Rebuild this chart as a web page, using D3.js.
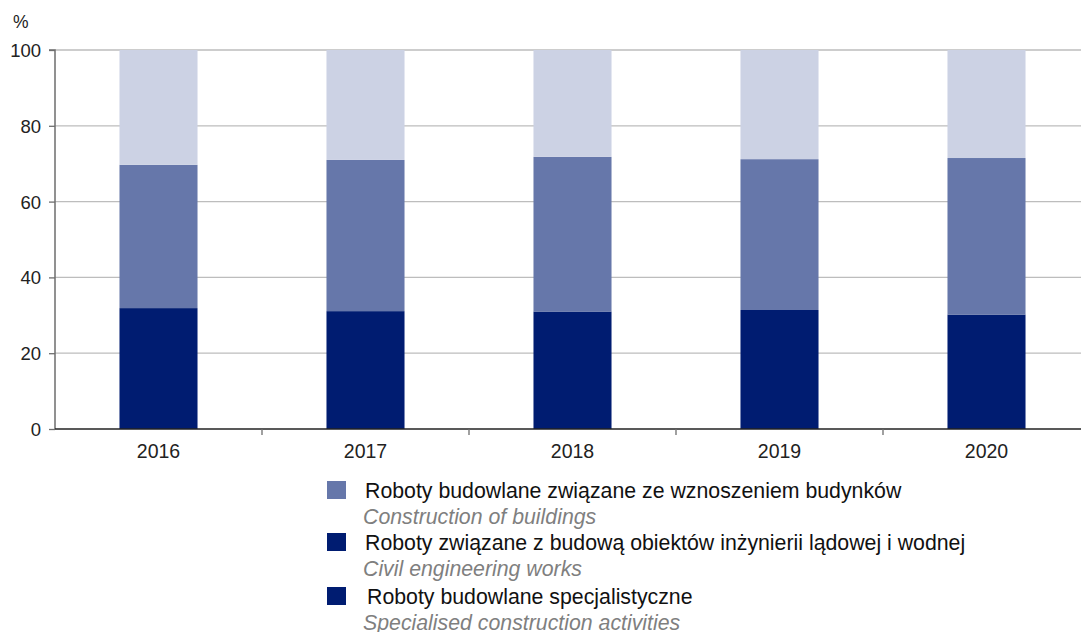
<!DOCTYPE html>
<html>
<head>
<meta charset="utf-8">
<script src="https://cdn.jsdelivr.net/npm/d3@7"></script>
<style>
  html, body { margin: 0; padding: 0; background: #fff; }
  svg { display: block; font-family: "Liberation Sans", Arial, sans-serif; }
</style>
</head>
<body>
<svg id="chart" width="1081" height="632"></svg>
<script>
// ---- data ----
const years = ["2016", "2017", "2018", "2019", "2020"];
const bottomSeries = [31.9, 31.1, 31.0, 31.4, 30.2];   // dark segment
const middleSeries = [37.8, 39.9, 40.8, 39.8, 41.3];   // medium segment
const topSeries    = [30.3, 29.0, 28.2, 28.8, 28.5];   // light segment
const yTicks = [0, 20, 40, 60, 80, 100];
const legendPl = [
  "Roboty budowlane związane ze wznoszeniem budynków",
  "Roboty związane z budową obiektów inżynierii lądowej i wodnej",
  "Roboty budowlane specjalistyczne"
];
const legendEn = [
  "Construction of buildings",
  "Civil engineering works",
  "Specialised construction activities"
];

const colors = { bottom: "#001C71", middle: "#6677AA", top: "#CCD2E4" };
const legendColors = ["#6677AA", "#001C71", "#001C71"];

const svg = d3.select("#chart");
const x0 = 55, x1 = 1090, yTop = 50, yBot = 429;

const x = d3.scaleBand().domain(years).range([x0, x1]).paddingInner(0.623).paddingOuter(0.3115);
const y = d3.scaleLinear().domain([0, 100]).range([yBot, yTop]);

// gridlines
svg.append("g").selectAll("line").data(yTicks.filter(d => d > 0)).join("line")
  .attr("x1", x0).attr("x2", 1081)
  .attr("y1", d => y(d)).attr("y2", d => y(d))
  .attr("stroke", "#BDBDBD").attr("stroke-width", 1.3);

// stacked data
const rows = years.map((yr, i) => ({ year: yr, bottom: bottomSeries[i], middle: middleSeries[i], top: topSeries[i] }));
const stack = d3.stack().keys(["bottom", "middle", "top"]);
const layers = stack(rows);

svg.append("g").selectAll("g").data(layers).join("g")
  .attr("fill", d => colors[d.key])
  .selectAll("rect").data(d => d).join("rect")
  .attr("x", d => x(d.data.year))
  .attr("width", x.bandwidth())
  .attr("y", d => y(Math.min(d[1], 100)))
  .attr("height", d => y(d[0]) - y(Math.min(d[1], 100)));

// y axis
const yAxis = d3.axisLeft(y).tickValues(yTicks).tickSize(6).tickPadding(8).tickFormat(d3.format("d"));
const gy = svg.append("g").attr("transform", `translate(${x0},0)`).call(yAxis);
gy.select(".domain").attr("stroke", "#6E6E6E").attr("stroke-width", 1.5).attr("d", `M-6,${yTop}H0V${yBot}`);
gy.selectAll(".tick line").attr("stroke", "#6E6E6E").attr("stroke-width", 1.3);
gy.selectAll(".tick text").attr("font-size", 18.5).attr("fill", "#222").attr("font-family", "Liberation Sans, Arial, sans-serif").attr("dy", "0.35em");

// x axis
const gx = svg.append("g").attr("transform", `translate(0,${yBot})`);
gx.append("line").attr("x1", x0).attr("x2", 1081).attr("y1", 0).attr("y2", 0).attr("stroke", "#222").attr("stroke-width", 1.6);
const bounds = years.slice(1).map(yr => x(yr) - x.step() * x.paddingInner() / 2);
gx.selectAll("line.tk").data(bounds).join("line").attr("class", "tk")
  .attr("x1", d => d).attr("x2", d => d).attr("y1", 0).attr("y2", 6)
  .attr("stroke", "#6E6E6E").attr("stroke-width", 1.3);
gx.selectAll("text").data(years).join("text")
  .attr("x", d => x(d) + x.bandwidth() / 2).attr("y", 29)
  .attr("text-anchor", "middle").attr("font-size", 19.5).attr("fill", "#222")
  .text(d => d);

// % label
svg.append("text").attr("x", 13).attr("y", 28).attr("font-size", 17.5).attr("fill", "#222").text("%");

// legend
const lg = svg.append("g");
const lineBase = [498, 550, 604];
legendPl.forEach((t, i) => {
  lg.append("rect").attr("x", 327).attr("y", lineBase[i] - 17).attr("width", 19).attr("height", 18).attr("fill", legendColors[i]);
  lg.append("text").attr("x", i === 2 ? 367 : 365).attr("y", lineBase[i]).attr("font-size", 21.3).attr("fill", "#111").text(t);
  lg.append("text").attr("x", 363).attr("y", lineBase[i] + 26).attr("font-size", 21.3).attr("font-style", "italic").attr("fill", "#7F7F7F").text(legendEn[i]);
});
</script>
</body>
</html>
